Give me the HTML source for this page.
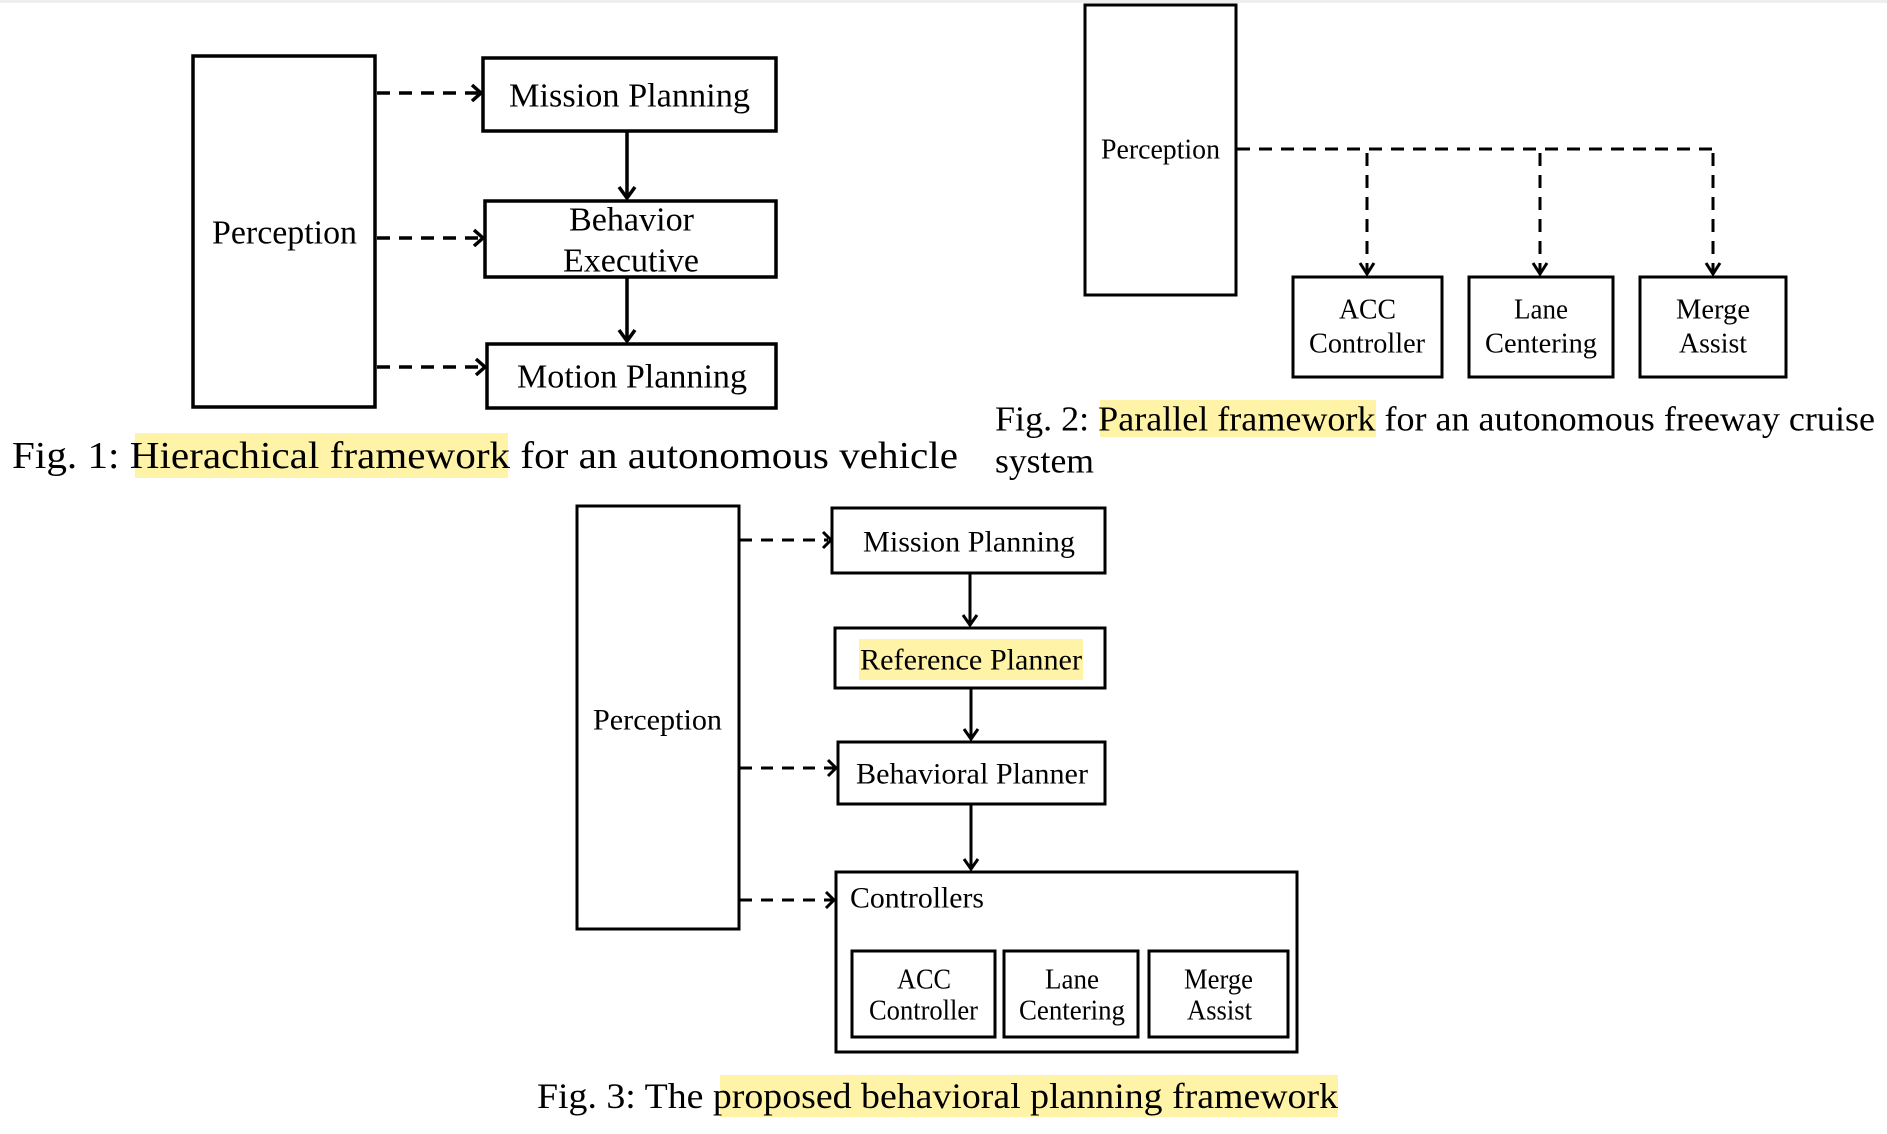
<!DOCTYPE html>
<html><head><meta charset="utf-8"><style>
html,body{margin:0;padding:0;background:#fff;}
svg{display:block;}
text{font-family:"Liberation Serif",serif;fill:#000;}
</style></head><body>
<svg width="1887" height="1134" viewBox="0 0 1887 1134" xmlns="http://www.w3.org/2000/svg">
<rect x="0" y="0" width="1887" height="3" fill="#eee"/>
<!-- highlights -->
<rect x="135" y="433" width="373" height="45" fill="#fff3a8"/>
<rect x="1100" y="400" width="276" height="37" fill="#fff3a8"/>
<rect x="859" y="639" width="224" height="41" fill="#fff3a8"/>
<rect x="720" y="1075" width="618" height="42" fill="#fff3a8"/>

<g fill="none" stroke="#000" stroke-width="3.5">
<!-- Fig1 -->
<rect x="193" y="56" width="182" height="351"/>
<rect x="483" y="58" width="293" height="73"/>
<rect x="485" y="201" width="291" height="76"/>
<rect x="487" y="344" width="289" height="64"/>
<g stroke-dasharray="13 9">
<line x1="377" y1="93" x2="478" y2="93"/>
<line x1="377" y1="238" x2="480" y2="238"/>
<line x1="377" y1="367" x2="482" y2="367"/>
</g>
<polyline points="472,85 481,93 472,101"/>
<polyline points="474,230 483,238 474,246"/>
<polyline points="476,359 485,367 476,375"/>
<line x1="627" y1="131" x2="627" y2="198"/>
<polyline points="619,187 627,198 635,187"/>
<line x1="627" y1="277" x2="627" y2="341"/>
<polyline points="619,330 627,341 635,330"/>
<!-- Fig2 -->
<rect x="1085" y="5" width="151" height="290" stroke-width="3"/>
<rect x="1293" y="277" width="149" height="100" stroke-width="3"/>
<rect x="1469" y="277" width="144" height="100" stroke-width="3"/>
<rect x="1640" y="277" width="146" height="100" stroke-width="3"/>
<g stroke-dasharray="13 9" stroke-width="3">
<line x1="1237" y1="149" x2="1714" y2="149"/>
<line x1="1367" y1="153" x2="1367" y2="272"/>
<line x1="1540" y1="153" x2="1540" y2="272"/>
<line x1="1713" y1="153" x2="1713" y2="272"/>
</g>
<polyline points="1360,263 1367,274 1374,263" stroke-width="3"/>
<polyline points="1533,263 1540,274 1547,263" stroke-width="3"/>
<polyline points="1706,263 1713,274 1720,263" stroke-width="3"/>
<!-- Fig3 -->
<rect x="577" y="506" width="162" height="423" stroke-width="3"/>
<rect x="832" y="508" width="273" height="65" stroke-width="3"/>
<rect x="835" y="628" width="270" height="60" stroke-width="3"/>
<rect x="838" y="742" width="267" height="62" stroke-width="3"/>
<rect x="836" y="872" width="461" height="180" stroke-width="3"/>
<rect x="852" y="951" width="143" height="86" stroke-width="3"/>
<rect x="1004" y="951" width="134" height="86" stroke-width="3"/>
<rect x="1149" y="951" width="139" height="86" stroke-width="3"/>
<g stroke-dasharray="12 9" stroke-width="3">
<line x1="740" y1="540" x2="828" y2="540"/>
<line x1="740" y1="768" x2="834" y2="768"/>
<line x1="740" y1="900" x2="832" y2="900"/>
</g>
<polyline points="823,532 831,540 823,548" stroke-width="3"/>
<polyline points="828,760 836,768 828,776" stroke-width="3"/>
<polyline points="826,892 834,900 826,908" stroke-width="3"/>
<line x1="970" y1="573" x2="970" y2="625" stroke-width="3"/>
<polyline points="963,615 970,625 977,615" stroke-width="3"/>
<line x1="971" y1="688" x2="971" y2="739" stroke-width="3"/>
<polyline points="964,729 971,739 978,729" stroke-width="3"/>
<line x1="971" y1="804" x2="971" y2="869" stroke-width="3"/>
<polyline points="964,859 971,869 978,859" stroke-width="3"/>
</g>

<g dominant-baseline="central" lengthAdjust="spacingAndGlyphs">
<!-- Fig1 text -->
<text x="509" y="96" font-size="34" textLength="241" lengthAdjust="spacingAndGlyphs">Mission Planning</text>
<text x="212" y="233" font-size="34" textLength="145" lengthAdjust="spacingAndGlyphs">Perception</text>
<text x="569" y="220" font-size="34" textLength="125" lengthAdjust="spacingAndGlyphs">Behavior</text>
<text x="563" y="261" font-size="34" textLength="136" lengthAdjust="spacingAndGlyphs">Executive</text>
<text x="517" y="377" font-size="34" textLength="230" lengthAdjust="spacingAndGlyphs">Motion Planning</text>
<text x="12" y="456" font-size="38" textLength="946" lengthAdjust="spacingAndGlyphs">Fig. 1: Hierachical framework for an autonomous vehicle</text>
<!-- Fig2 text -->
<text x="1101" y="150" font-size="28" textLength="119" lengthAdjust="spacingAndGlyphs">Perception</text>
<text x="1339" y="310" font-size="28" textLength="57" lengthAdjust="spacingAndGlyphs">ACC</text>
<text x="1309" y="344" font-size="28" textLength="116" lengthAdjust="spacingAndGlyphs">Controller</text>
<text x="1514" y="310" font-size="28" textLength="54" lengthAdjust="spacingAndGlyphs">Lane</text>
<text x="1485" y="344" font-size="28" textLength="112" lengthAdjust="spacingAndGlyphs">Centering</text>
<text x="1676" y="310" font-size="28" textLength="74" lengthAdjust="spacingAndGlyphs">Merge</text>
<text x="1679" y="344" font-size="28" textLength="68" lengthAdjust="spacingAndGlyphs">Assist</text>
<text x="995" y="419" font-size="35" textLength="880" lengthAdjust="spacingAndGlyphs">Fig. 2: Parallel framework for an autonomous freeway cruise</text>
<text x="995" y="461" font-size="35" textLength="99" lengthAdjust="spacingAndGlyphs">system</text>
<!-- Fig3 text -->
<text x="863" y="542" font-size="30" textLength="212" lengthAdjust="spacingAndGlyphs">Mission Planning</text>
<text x="860" y="660" font-size="30" textLength="222" lengthAdjust="spacingAndGlyphs">Reference Planner</text>
<text x="856" y="774" font-size="30" textLength="232" lengthAdjust="spacingAndGlyphs">Behavioral Planner</text>
<text x="593" y="720" font-size="30" textLength="129" lengthAdjust="spacingAndGlyphs">Perception</text>
<text x="850" y="898" font-size="30" textLength="134" lengthAdjust="spacingAndGlyphs">Controllers</text>
<text x="897" y="980" font-size="28" textLength="54" lengthAdjust="spacingAndGlyphs">ACC</text>
<text x="869" y="1011" font-size="28" textLength="109" lengthAdjust="spacingAndGlyphs">Controller</text>
<text x="1045" y="980" font-size="28" textLength="54" lengthAdjust="spacingAndGlyphs">Lane</text>
<text x="1019" y="1011" font-size="28" textLength="106" lengthAdjust="spacingAndGlyphs">Centering</text>
<text x="1184" y="980" font-size="28" textLength="69" lengthAdjust="spacingAndGlyphs">Merge</text>
<text x="1187" y="1011" font-size="28" textLength="65" lengthAdjust="spacingAndGlyphs">Assist</text>
<text x="537" y="1096" font-size="36" textLength="801" lengthAdjust="spacingAndGlyphs">Fig. 3: The proposed behavioral planning framework</text>
</g>
</svg>
</body></html>
